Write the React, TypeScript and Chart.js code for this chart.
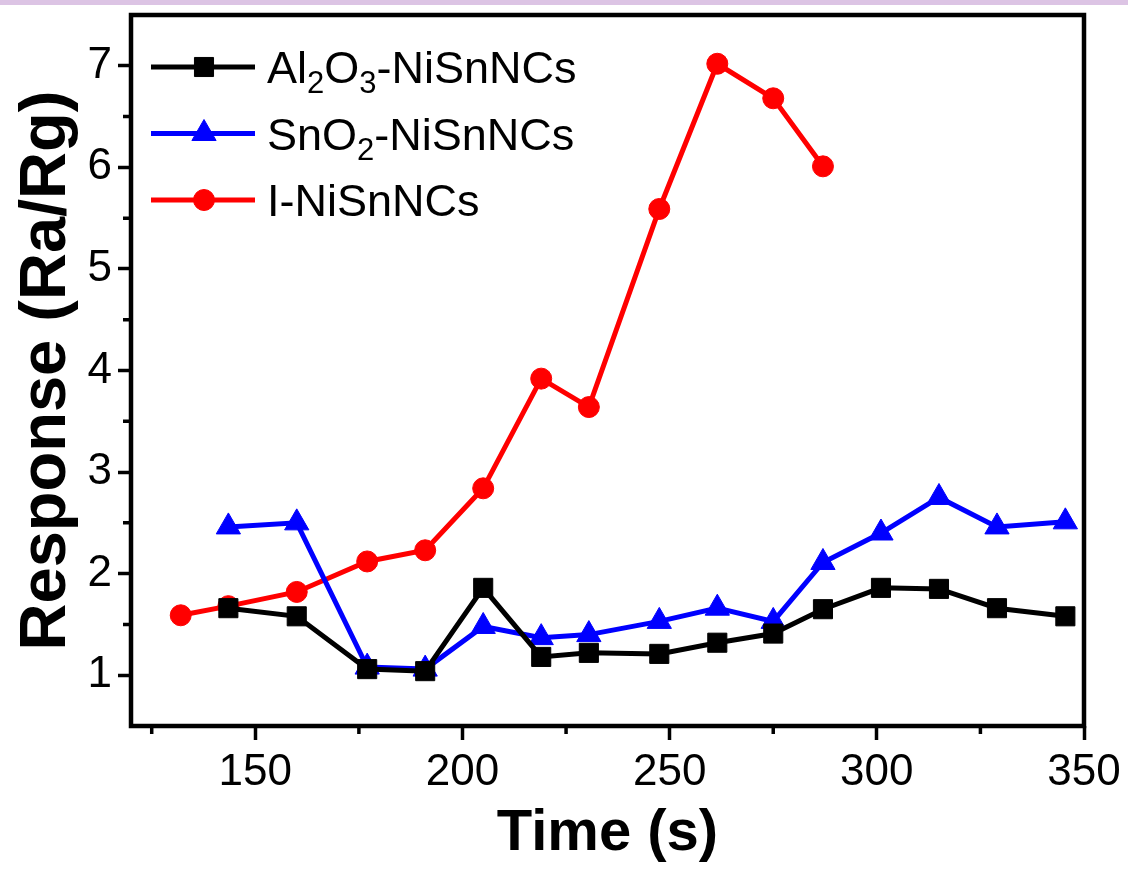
import { useEffect, useRef } from 'react';
import { Chart, registerables } from 'chart.js';
import { drawPoint } from 'chart.js/helpers';

Chart.register(...registerables);

// ---- data ----
const timeI = [132, 143.5, 160, 177, 191, 205, 219, 230.5, 247.5, 261.5, 275, 287];
const responseI = [1.59, 1.68, 1.82, 2.12, 2.23, 2.84, 3.92, 3.64, 5.59, 7.02, 6.68, 6.01];
const timeOx = [143.5, 160, 177, 191, 205, 219, 230.5, 247.5, 261.5, 275, 287, 301, 315, 329, 345.5];
const responseAl = [1.66, 1.58, 1.06, 1.04, 1.86, 1.18, 1.22, 1.21, 1.32, 1.41, 1.65, 1.86, 1.85, 1.66, 1.58];
const responseSn = [2.46, 2.5, 1.08, 1.06, 1.48, 1.37, 1.4, 1.53, 1.66, 1.53, 2.11, 2.4, 2.75, 2.46, 2.51];

const xTickValues = [150, 200, 250, 300, 350];
const xMinorValues = [125, 175, 225, 275, 325];
const yTickValues = [1, 2, 3, 4, 5, 6, 7];
const yMinorValues = [1.5, 2.5, 3.5, 4.5, 5.5, 6.5];

// legend labels split into normal / subscript segments
const labelAl = [['Al', false], ['2', true], ['O', false], ['3', true], ['-NiSnNCs', false]] as [string, boolean][];
const labelSn = [['SnO', false], ['2', true], ['-NiSnNCs', false]] as [string, boolean][];
const labelI = [['I-NiSnNCs', false]] as [string, boolean][];

const FONT = "'Liberation Sans', Arial, sans-serif";

const toXY = (xs: number[], ys: number[]) => xs.map((x, i) => ({ x, y: ys[i] }));

const extrasPlugin = {
  id: 'extras',
  afterDraw(chart: any) {
    const { ctx, chartArea, scales } = chart;
    const xs = scales.x;
    const ys = scales.y;
    ctx.save();
    ctx.strokeStyle = '#000';
    ctx.lineWidth = 3.5;
    ctx.beginPath();
    xMinorValues.forEach((v) => {
      const px = xs.getPixelForValue(v);
      ctx.moveTo(px, chartArea.bottom);
      ctx.lineTo(px, chartArea.bottom + 8);
    });
    yMinorValues.forEach((v) => {
      const py = ys.getPixelForValue(v);
      ctx.moveTo(chartArea.left - 8, py);
      ctx.lineTo(chartArea.left, py);
    });
    ctx.stroke();
    // frame
    ctx.lineWidth = 4.5;
    ctx.strokeRect(chartArea.left, chartArea.top, chartArea.right - chartArea.left, chartArea.bottom - chartArea.top);

    // legend
    const rows = [labelAl, labelSn, labelI];
    const x0 = chartArea.left + 20;
    const x1 = chartArea.left + 124;
    const xm = chartArea.left + 73;
    const xt = chartArea.left + 136;
    rows.forEach((segs, r) => {
      const ds = chart.data.datasets[r];
      const yRow = chartArea.top + 52 + r * 66.5;
      ctx.strokeStyle = ds.borderColor;
      ctx.lineWidth = ds.borderWidth;
      ctx.beginPath();
      ctx.moveTo(x0, yRow);
      ctx.lineTo(x1, yRow);
      ctx.stroke();
      ctx.fillStyle = ds.pointBackgroundColor;
      ctx.strokeStyle = ds.pointBorderColor;
      ctx.lineWidth = ds.pointBorderWidth;
      drawPoint(ctx, { pointStyle: ds.pointStyle, radius: ds.pointRadius, rotation: 0, borderWidth: ds.pointBorderWidth }, xm, yRow);
      ctx.fillStyle = '#000';
      ctx.textBaseline = 'alphabetic';
      ctx.textAlign = 'left';
      let cx = xt;
      const base = yRow + 16;
      segs.forEach(([t, sub]) => {
        ctx.font = sub ? `31px ${FONT}` : `45px ${FONT}`;
        ctx.fillText(t, cx, sub ? base + 10 : base);
        cx += ctx.measureText(t).width;
      });
    });
    ctx.restore();
  },
};

export default function App() {
  const ref = useRef<HTMLCanvasElement>(null);
  useEffect(() => {
    if (!ref.current) return;
    const chart = new Chart(ref.current, {
      type: 'line',
      data: {
        datasets: [
          {
            label: 'Al2O3-NiSnNCs',
            data: toXY(timeOx, responseAl),
            borderColor: '#000000',
            backgroundColor: '#000000',
            pointBackgroundColor: '#000000',
            pointBorderColor: '#000000',
            borderWidth: 5,
            pointStyle: 'rect',
            pointRadius: 13.5,
            pointBorderWidth: 1,
          },
          {
            label: 'SnO2-NiSnNCs',
            data: toXY(timeOx, responseSn),
            borderColor: '#0000ff',
            backgroundColor: '#0000ff',
            pointBackgroundColor: '#0000ff',
            pointBorderColor: '#0000ff',
            borderWidth: 5,
            pointStyle: 'triangle',
            pointRadius: 14,
            pointBorderWidth: 1,
          },
          {
            label: 'I-NiSnNCs',
            data: toXY(timeI, responseI),
            borderColor: '#ff0000',
            backgroundColor: '#ff0000',
            pointBackgroundColor: '#ff0000',
            pointBorderColor: '#ff0000',
            borderWidth: 5,
            pointStyle: 'circle',
            pointRadius: 10.5,
            pointBorderWidth: 1,
          },
        ] as any,
      },
      options: {
        animation: false,
        responsive: false,
        devicePixelRatio: 1,
        layout: { padding: { top: 14, right: 44, left: 0, bottom: 0 } },
        plugins: { legend: { display: false }, tooltip: { enabled: false } },
        elements: { line: { tension: 0 } },
        scales: {
          x: {
            type: 'linear',
            min: 120,
            max: 350,
            afterBuildTicks: (s: any) => {
              s.ticks = xTickValues.map((v) => ({ value: v }));
            },
            afterFit: (s: any) => {
              s.height = 148;
              s.paddingLeft = 0;
              s.paddingRight = 0;
            },
            grid: { drawOnChartArea: false, drawTicks: true, tickLength: 14, tickWidth: 3.5, tickColor: '#000' },
            border: { display: false },
            ticks: { color: '#000', font: { family: FONT, size: 44 }, padding: 6, maxRotation: 0 },
            title: {
              display: true,
              text: 'Time (s)',
              color: '#000',
              font: { family: FONT, size: 58, weight: 'bold', lineHeight: 1.2 },
              padding: { top: 0, bottom: 5 },
            },
          },
          y: {
            type: 'linear',
            min: 0.5,
            max: 7.5,
            afterBuildTicks: (s: any) => {
              s.ticks = yTickValues.map((v) => ({ value: v }));
            },
            afterFit: (s: any) => {
              s.width = 131;
              s.paddingTop = 0;
              s.paddingBottom = 0;
            },
            grid: { drawOnChartArea: false, drawTicks: true, tickLength: 13, tickWidth: 3.5, tickColor: '#000' },
            border: { display: false },
            ticks: { color: '#000', font: { family: FONT, size: 44 }, padding: 6 },
            title: {
              display: true,
              text: 'Response (Ra/Rg)',
              color: '#000',
              font: { family: FONT, size: 65, weight: 'bold', lineHeight: 1.2 },
              padding: { top: 8, bottom: 0 },
            },
          },
        },
      } as any,
      plugins: [extrasPlugin],
    });
    return () => chart.destroy();
  }, []);

  return (
    <div style={{ position: 'fixed', left: 0, top: 0, width: 1128, height: 874, background: '#fff', overflow: 'hidden' }}>
      <div style={{ position: 'absolute', left: 0, top: 0, width: 1128, height: 5, background: '#dcc4e4' }} />
      <canvas ref={ref} width={1128} height={874} style={{ display: 'block', width: 1128, height: 874 }} />
    </div>
  );
}
